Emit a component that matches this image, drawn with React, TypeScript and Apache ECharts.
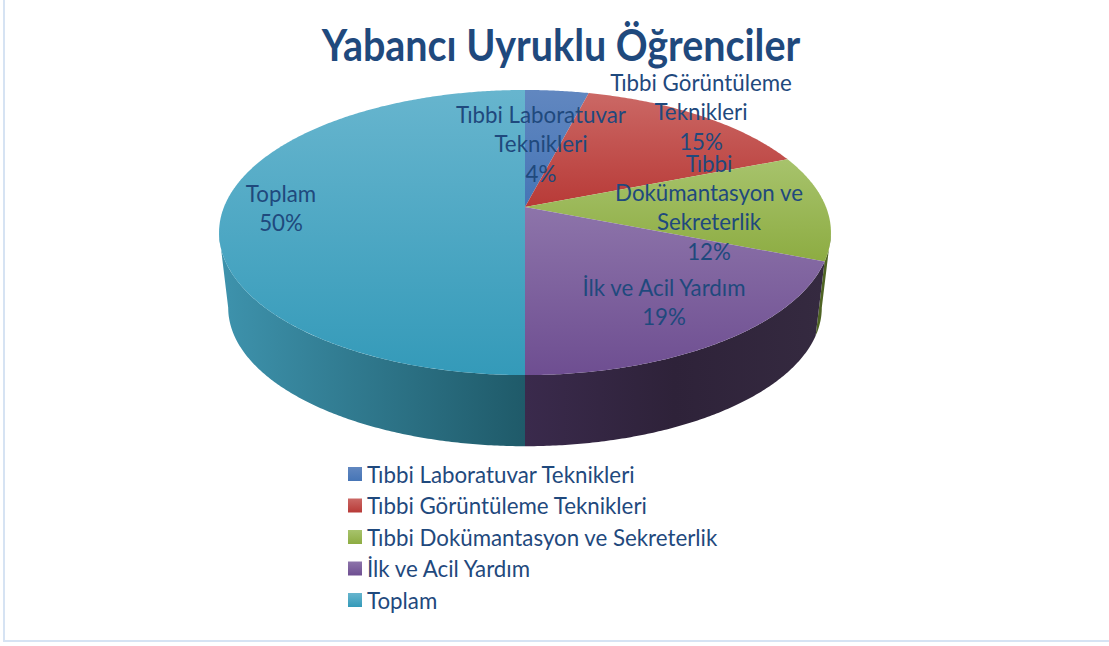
import React, { useEffect, useRef } from "react";
import * as echarts from "echarts";

const title = "Yabancı Uyruklu Öğrenciler";
const categories = [
  "Tıbbi Laboratuvar Teknikleri",
  "Tıbbi Görüntüleme Teknikleri",
  "Tıbbi Dokümantasyon ve Sekreterlik",
  "İlk ve Acil Yardım",
  "Toplam",
];
const values = [4, 15, 12, 19, 50];
const labelLines = [
  ["Tıbbi Laboratuvar", "Teknikleri"],
  ["Tıbbi Görüntüleme", "Teknikleri"],
  ["Tıbbi", "Dokümantasyon ve", "Sekreterlik"],
  ["İlk ve Acil Yardım"],
  ["Toplam"],
];
const labelX = [541, 701, 709, 664, 281];
const labelTop = [100, 68, 148.5, 273, 178.5];
const topColors = [
  ["#6187c0", "#4675b6"],
  ["#cb6865", "#b83a37"],
  ["#a7c36c", "#8dac42"],
  ["#8d74aa", "#6e4e91"],
  ["#67b5ce", "#349ab9"],
];
const wallColors = [
  ["#3f5f90", "#3f5f90"],
  ["#8c2d2b", "#8c2d2b"],
  ["#4f6424", "#4f6424"],
  ["#3a2a4c", "#2e2239", "#352a40"],
  ["#3e93ad", "#1f5a69"],
];

const TOP = { cx: 525, cy: 207, a: 301, b: 138, k: 0.179 };
const BOTTOM = { cx: 525, cy: 283, a: 292, b: 134, k: 0.179 };
const total = values.reduce((s, v) => s + v, 0);

type Frame = typeof TOP;
function project(f: Frame, deg: number): number[] {
  const r = (deg * Math.PI) / 180;
  const x = Math.sin(r);
  const y = Math.cos(r);
  const w = 1 + f.k * y;
  return [f.cx + (f.a * x) / w, f.cy - (f.b * y) / w];
}
function rim(f: Frame, from: number, to: number): number[][] {
  const out: number[][] = [];
  const steps = Math.max(2, Math.ceil((to - from) * 2));
  for (let i = 0; i <= steps; i++) out.push(project(f, from + ((to - from) * i) / steps));
  return out;
}
function stops(c: string[]) {
  return c.map((color, i) => ({ offset: i / (c.length - 1), color }));
}
function vGrad(c: string[]) {
  return new echarts.graphic.LinearGradient(0, 0, 0, 1, stops(c));
}
function hGrad(c: string[]) {
  return new echarts.graphic.LinearGradient(0, 0, 1, 0, stops(c));
}

function makeRender(index: number) {
  return (_params: any, api: any) => {
    const value = api.value(0) as number;
    const before = values.slice(0, index).reduce((s, v) => s + v, 0);
    const from = (before / total) * 360;
    const to = ((before + value) / total) * 360;
    const children: any[] = [];
    const limit = (Math.acos(-TOP.k) * 180) / Math.PI;
    const wFrom = Math.max(from, limit);
    const wTo = Math.min(to, 360 - limit);
    if (wTo > wFrom) {
      const pts = [...rim(TOP, wFrom, wTo), ...rim(BOTTOM, wFrom, wTo).reverse()];
      children.push({
        type: "polygon",
        z2: 1,
        shape: { points: pts },
        style: { fill: hGrad(wallColors[index]) },
      });
    }
    children.push({
      type: "polygon",
      z2: 2,
      shape: { points: [[TOP.cx, TOP.cy], ...rim(TOP, from, to)] },
      style: { fill: vGrad(topColors[index]) },
    });
    return { type: "group", children };
  };
}

export default function App() {
  const ref = useRef<HTMLDivElement>(null);
  useEffect(() => {
    document.body.style.margin = "0";
    const chart = echarts.init(ref.current!, undefined, { renderer: "svg" });
    const fontFamily = "Lato";
    const ink = "#1f497d";
    chart.setOption({
      animation: false,
      backgroundColor: "#ffffff",
      legend: {
        orient: "vertical",
        left: 348,
        top: 462,
        padding: 0,
        icon: "rect",
        itemWidth: 14,
        itemHeight: 14,
        itemGap: 7.5,
        data: categories,
        textStyle: { fontFamily, fontSize: 22.3, color: ink, lineHeight: 24 },
      },
      series: categories.map((name, i) => ({
        type: "custom",
        name,
        coordinateSystem: "none",
        data: [[values[i]]],
        renderItem: makeRender(i),
        itemStyle: { color: vGrad(topColors[i]) },
        silent: true,
      })),
      graphic: [
        { type: "rect", shape: { x: 3, y: 0, width: 2, height: 642 }, style: { fill: "#d6e3f3" } },
        { type: "rect", shape: { x: 3, y: 640, width: 1106, height: 2 }, style: { fill: "#d6e3f3" } },
        {
          type: "text",
          z: 10,
          x: 561,
          y: 22,
          scaleX: 0.897,
          style: {
            text: title,
            fontFamily,
            fontSize: 44,
            fontWeight: "bold",
            fill: ink,
            align: "center",
            verticalAlign: "top",
          },
        },
        ...categories.map((_, i) => ({
          type: "text",
          z: 10,
          x: labelX[i],
          y: labelTop[i],
          style: {
            text: [...labelLines[i], `${values[i]}%`].join("\n"),
            fontFamily,
            fontSize: 22.3,
            lineHeight: 29.3,
            fill: ink,
            align: "center",
            verticalAlign: "top",
          },
        })),
      ],
    });
    return () => chart.dispose();
  }, []);
  return <div ref={ref} style={{ position: "fixed", left: 0, top: 0, width: 1109, height: 646 }} />;
}
